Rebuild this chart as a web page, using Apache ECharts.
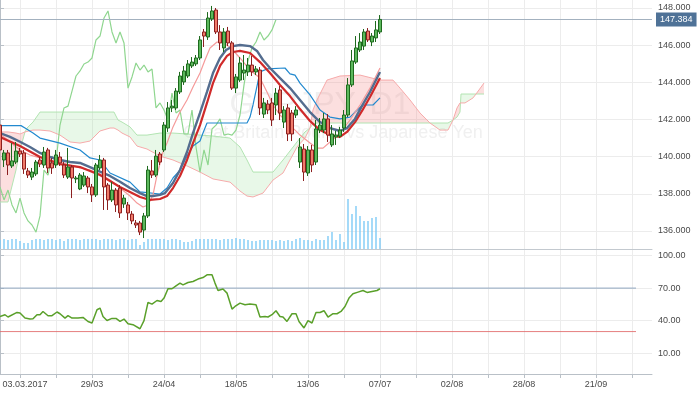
<!DOCTYPE html>
<html><head><meta charset="utf-8">
<script src="https://cdn.jsdelivr.net/npm/echarts@6/dist/echarts.min.js"></script>
<style>html,body{margin:0;padding:0;background:#fff}#c{width:700px;height:394px}</style>
</head><body><div id="c"></div>
<script>
// ---------- data ----------
const firstBarDate = '2017-02-24';
const slotCount = 164;               // 96 bars + 68 future slots
const tickIndex = [5, 23, 41, 59, 77, 95, 113, 131, 149];
const tickLabels = ['03.03.2017', '29/03', '24/04', '18/05', '13/06', '07/07', '02/08', '28/08', '21/09'];
const priceTicks = [136, 138, 140, 142, 144, 146, 148];
const rsiTicks = [10, 40, 70, 100];
const rsiLevels = [70, 30];

// [open, close, low, high]
const ohlc = [
[141.70,140.36,139.55,141.86],[139.82,140.20,139.44,140.36],[140.20,139.55,139.01,140.36],[139.50,139.77,139.39,140.73],
[139.71,140.30,139.60,140.79],[140.30,140.14,139.98,140.47],[140.20,139.33,139.07,140.36],[139.23,139.01,138.85,139.39],
[138.90,139.17,138.74,139.39],[139.07,139.71,138.96,139.82],[139.82,139.60,139.44,139.98],[139.55,140.25,139.39,140.52],
[140.36,139.39,139.12,140.47],[139.66,139.39,139.07,139.93],[139.55,140.09,139.39,140.36],[139.98,139.66,139.50,140.25],
[139.55,139.01,138.85,139.71],[138.90,139.44,138.80,140.47],[139.44,138.85,137.77,139.55],[138.80,138.85,138.58,138.96],
[138.26,139.01,138.20,139.12],[138.47,138.96,138.37,139.17],[138.85,138.37,138.04,138.96],[138.37,137.94,137.56,138.53],
[137.94,139.55,137.83,139.66],[139.39,139.82,139.28,140.09],[139.82,138.37,137.13,139.93],[138.47,137.67,137.13,138.58],
[137.67,138.20,137.56,138.64],[138.20,137.40,137.02,138.31],[138.31,136.97,136.70,138.47],[137.45,137.77,137.24,137.94],
[137.40,136.97,136.59,137.56],[136.91,136.54,136.37,137.07],[136.43,136.32,136.16,136.59],[136.43,135.94,135.78,136.54],
[136.05,136.81,135.62,136.97],[136.81,139.28,136.70,139.50],[139.23,139.01,138.85,139.82],[139.01,140.03,138.90,140.36],
[140.14,139.71,139.55,140.25],[140.36,141.70,140.25,141.86],[141.54,142.62,141.33,142.94],[142.62,142.72,142.40,143.05],
[142.62,143.53,142.51,143.69],[143.48,144.34,143.37,144.56],[144.02,144.61,143.86,144.88],[144.34,144.99,144.23,145.20],
[144.88,145.09,144.77,145.36],[144.99,145.31,144.88,145.47],[145.31,146.28,145.20,146.49],[146.71,146.49,145.90,146.87],
[146.44,147.46,146.28,147.78],[147.41,147.84,147.30,148.11],[147.89,146.71,146.60,148.00],[146.71,146.12,145.74,147.08],
[145.85,146.71,145.63,146.92],[146.76,146.12,145.95,146.98],[146.12,143.69,143.59,146.22],[143.69,144.29,143.42,144.45],
[144.12,145.04,144.02,145.36],[144.50,144.66,144.12,145.47],[144.56,144.93,144.34,145.31],[144.93,144.56,144.34,145.42],
[144.56,144.72,144.39,144.88],[144.66,142.62,142.24,144.82],[142.29,142.89,142.08,143.16],[142.83,142.51,142.29,143.05],
[142.89,141.97,141.65,143.16],[142.78,143.42,142.24,143.69],[143.59,142.35,141.97,143.80],[141.86,142.51,141.54,142.72],
[142.62,141.22,140.84,142.83],[142.35,141.22,140.84,142.51],[142.24,142.51,142.08,142.72],[139.71,140.52,139.39,141.00],
[140.41,139.17,138.69,140.68],[139.12,140.36,138.96,140.57],[140.36,139.55,139.17,140.63],[139.71,141.49,139.55,141.97],
[141.43,141.70,141.27,142.08],[141.43,142.03,141.27,142.35],[142.03,141.16,140.79,142.29],[140.63,141.22,140.52,141.70],
[141.06,141.16,140.63,141.38],[141.11,141.43,141.00,141.60],[141.54,142.24,141.33,142.51],[142.24,143.86,142.13,144.23],
[143.86,145.15,143.75,145.74],[145.09,145.85,144.99,146.49],[145.74,146.17,145.63,146.65],[145.95,146.71,145.74,146.87],
[146.76,146.28,146.17,146.92],[146.17,146.49,145.95,146.65],[146.39,146.82,146.17,147.30],[146.71,147.384,146.60,147.62]
];

const volume = [900,1000,900,1000,1000,800,600,600,900,1000, 1000,900,1000,1000,900,1000,800,1000,1000,1000,
 900,1000,1000,1000,1000,900,1000,1000,1000,900, 1000,1000,900,1000,1000,400,700,1000,1000,1000,
 1000,1000,900,1000,1000,900,700,700,800,1000, 1000,1000,1000,1000,1000,900,1000,1000,1000,1100,
 1000,1000,900,800,800,900,900,900,900,800, 900,800,900,800,1000,1100,900,900,800,1000,
 900,900,1300,1700,900,1500,700,5000,3500,4300, 3300,2800,2800,3100,3200,1100];

// [bar index, price]
const maSlate = [[0,141.27],[2.5,141.06],[5,140.80],[7.5,140.52],[10,140.20],[12.5,139.98],[15,139.82],[17.5,139.71],[20,139.66],[22.5,139.44],[25,139.19],[27.5,138.96],[30,138.65],[32.5,138.31],[35,138.04],[36.75,137.88],[38.25,137.88],[40,137.94],[41.25,138.04],[43.25,138.58],[45,139.28],[46.75,140.25],[48.25,141.27],[50,142.35],[51.75,143.48],[53.25,144.50],[55,145.31],[56.5,145.74],[58.25,145.95],[60,146.01],[62.5,145.95],[64.25,145.69],[65.75,145.20],[67.5,144.77],[70,144.23],[72.5,143.69],[75,143.05],[77.5,142.40],[80,141.86],[82.5,141.54],[85,141.38],[86.75,141.54],[88.75,142.03],[90.5,142.73],[92.5,143.48],[95,144.56]];
const maRed = [[0,141.06],[5,140.57],[10,139.98],[15,139.60],[20,139.44],[25,139.01],[30,138.37],[32.5,138.10],[35,137.83],[37.5,137.67],[40,137.72],[41.75,137.88],[43.25,138.31],[45,138.96],[46.75,139.82],[48.25,140.73],[50,141.70],[51.75,142.89],[53.25,143.96],[55,144.88],[56.75,145.42],[58.25,145.63],[60,145.69],[62.5,145.58],[65,145.09],[67.5,144.50],[70,143.86],[72.5,143.26],[75,142.56],[77.5,141.92],[80,141.43],[82.5,141.16],[85,141.06],[86.75,141.33],[88.75,141.86],[90.5,142.46],[92.5,143.21],[95,144.23]];
const tenkan = [[0,141.22],[2.5,140.79],[5,140.36],[7.5,140.09],[10,139.93],[12.5,139.82],[15,139.71],[17.5,139.55],[20,139.39],[22.5,139.28],[25,139.07],[27.5,138.74],[30,138.31],[32.5,137.88],[34.25,137.50],[35.75,137.29],[37,137.40],[38.25,137.94],[39.25,139.01],[40.75,140.25],[41.75,140.73],[43.25,141.60],[45,142.40],[46.75,143.05],[48.25,143.75],[50,144.50],[51.25,145.20],[52.5,145.85],[54.25,146.17],[55.75,146.12],[57.5,145.90],[60,145.31],[62.5,144.66],[65,144.23],[66.75,143.48],[68.25,142.78],[70,142.24],[72.5,141.70],[75,141.16],[77.5,140.73],[79.25,140.46],[80.75,140.46],[82.5,140.79],[85,141.27],[87.5,141.97],[90,142.78],[92.5,143.69],[95,144.77]];
const kijun = [[0,141.67],[5.25,141.67],[6.25,141.54],[8.25,141.27],[10,141.00],[15,140.73],[20,140.36],[22.5,139.93],[25,139.82],[27.5,139.12],[32.5,138.63],[35,138.10],[40,137.99],[41.75,138.31],[43.25,138.85],[45,139.28],[46.75,140.03],[48.25,140.57],[50,140.84],[50.75,141.27],[51.75,141.81],[61.75,141.81],[62.5,142.13],[63.25,142.78],[64.25,143.80],[65,144.56],[66.75,144.72],[71.25,144.77],[72.5,144.45],[73.75,144.39],[75,143.96],[77.5,143.32],[80,142.51],[82.5,142.13],[85,142.03],[87.5,142.13],[88.75,142.40],[90.75,142.78],[93.25,142.78],[95,143.16]];

const cloudX  = [0,2,4,5,6.25,6.75,8.25,10,12.5,15,17.5,20,22.5,25,27.5,28.5,29.5,30.5,32.5,34.25,36.75,40,43.25,46.75,50,53.25,57.5,60,61.75,63.25,65.75,68.25,70.75,74.25,76.25,77.5,78.25,79.25,81.75,85,90,95,98.25,100,102.5,105,107.5,110,112,113.25,114.25,115,115.125,115.25,116.25,118.25,119,121];
const senkouA = [137.56,137.56,139.28,140.36,141.33,141.54,141.86,142.40,142.40,142.40,142.40,142.40,142.40,142.40,142.40,142.40,141.97,141.86,141.60,141.16,141.16,141.27,141.27,141.22,141.16,141.11,141.00,140.52,139.82,139.17,139.17,139.17,139.82,140.79,141.33,141.54,141.76,141.81,141.81,141.81,141.81,141.81,141.81,141.81,141.81,141.81,141.81,141.81,141.81,141.97,142.13,142.40,142.89,143.37,143.37,143.37,143.37,143.37];
const senkouB = [141.33,141.33,141.27,141.22,141.33,141.38,141.43,141.43,141.38,141.16,140.79,140.73,140.84,141.38,141.54,141.54,141.43,141.27,141.06,140.57,140.41,140.03,139.82,139.50,139.17,138.80,138.63,138.15,137.88,137.83,138.04,138.74,139.12,140.52,141.00,141.54,142.51,143.05,144.12,144.34,144.39,144.12,144.12,143.69,143.05,142.35,141.81,141.43,141.43,141.97,142.62,142.89,142.89,142.89,142.89,143.16,143.37,143.96];
const chikouShift = 26;

const rsi = [[0,43.9],[1.25,45.5],[2,43.4],[4.25,47.6],[5,47.0],[6.25,42.4],[7.5,41.5],[8.25,41.8],[9.25,45.5],[10,45.5],[10.75,48.5],[12,44.6],[13,44.6],[14.25,48.0],[15,46.4],[16.25,42.4],[17,44.6],[18,42.4],[19.5,42.4],[20.75,43.0],[22,39.3],[23,37.9],[24.25,50.1],[25,51.6],[25.75,43.9],[26.75,40.2],[28,42.1],[29,42.1],[30,39.3],[31,41.5],[32,37.2],[33.25,36.3],[35,32.6],[36,40.0],[37,56.8],[38,55.3],[39.25,58.6],[40.25,57.7],[41,60.8],[42,69.4],[43,69.4],[44,72.1],[45,74.6],[45.75,73.0],[47,75.1],[48.25,76.1],[49.5,78.3],[50.75,79.7],[51.75,82.2],[53,82.2],[53.75,74.6],[54.5,67.8],[55.75,69.1],[56.75,65.4],[58,50.7],[58.75,53.1],[60,56.2],[61.25,54.7],[62.5,55.3],[64,54.7],[65,43.4],[66.25,43.9],[67,43.4],[68,45.5],[69,49.2],[70,43.9],[70.75,43.4],[71.75,39.3],[73,46.4],[74,46.4],[74.75,39.3],[76,33.3],[77,40.0],[78,37.9],[79,47.6],[80,47.6],[81,49.2],[82,43.4],[83.25,46.4],[84.25,46.4],[85.25,48.5],[86.25,53.1],[87.25,60.8],[88.25,64.8],[89.5,66.3],[90.75,67.8],[91.75,66.0],[93,66.9],[94.25,67.8],[95,69.4]];
const rsiLevelEnd = 159;

// ---------- derived ----------
const categories = [];
{ const d = new Date(firstBarDate + 'T00:00:00Z');
  while (categories.length < slotCount) {
    const wd = d.getUTCDay();
    if (wd !== 0 && wd !== 6) categories.push(String(d.getUTCDate()).padStart(2,'0') + '/' + String(d.getUTCMonth()+1).padStart(2,'0'));
    d.setUTCDate(d.getUTCDate() + 1);
  } }
const closes = ohlc.map(r => r[1]);
const lastClose = closes[closes.length - 1];
const chikou = closes.slice(chikouShift).map((c, k) => [k, c]);

// cloud runs (contiguous segments with same sign)
const runs = [];
for (let i = 0; i < cloudX.length - 1; i++) {
  const up = (senkouA[i] + senkouA[i+1]) >= (senkouB[i] + senkouB[i+1]) ? 1 : 0;
  const last = runs[runs.length - 1];
  if (last && last[6] === up) { last[1] = cloudX[i+1]; last[5] = i + 1; }
  else runs.push([cloudX[i], cloudX[i+1], 135, 148, i, i + 1, up]);
}

const FONT = 'Liberation Sans, Arial, sans-serif';
const splitEvery = (idx) => idx >= 5 && (idx - 5) % 9 === 0;
const gridLine = { show: true, lineStyle: { color: '#ececec', width: 1 } };

const chart = echarts.init(document.getElementById('c'), null, { renderer: 'canvas' });
chart.setOption({
  animation: false,
  backgroundColor: '#fff',
  grid: [
    { left: 0, top: 0, width: 652, height: 249, containLabel: false, outerBoundsMode: 'none' },
    { left: 0, top: 250, width: 652, height: 124, containLabel: false, outerBoundsMode: 'none' }
  ],
  graphic: [
    { type: 'text', x: 320, y: 105, z: 0, silent: true,
      style: { text: 'GBPJPY, D1', fontSize: 32, fontFamily: FONT, fill: '#f0f0f0', align: 'center', verticalAlign: 'middle' } },
    { type: 'text', x: 333, y: 133, z: 0, silent: true,
      style: { text: 'Great Britain Pound vs Japanese Yen', fontSize: 18, fontFamily: FONT, fill: '#f0f0f0', align: 'center', verticalAlign: 'middle' } }
  ],
  xAxis: [
    { type: 'category', gridIndex: 0, data: categories, boundaryGap: false,
      axisLine: { show: true, onZero: false, lineStyle: { color: '#c3c9cf' } },
      axisTick: { show: false }, axisLabel: { show: false },
      splitLine: Object.assign({ interval: (i) => splitEvery(i) }, gridLine) },
    { type: 'value', gridIndex: 0, min: 0, max: slotCount - 1, show: false },
    { type: 'category', gridIndex: 1, data: categories, boundaryGap: false,
      axisLine: { show: true, onZero: false, lineStyle: { color: '#b9c0c7' } },
      axisTick: { show: true, length: 4, interval: (i) => splitEvery(i), lineStyle: { color: '#b9c0c7' } },
      axisLabel: { show: true, margin: 6, interval: (i) => tickIndex.includes(i), color: '#4a4a4a', fontSize: 9, fontFamily: FONT,
        formatter: (v, i) => { const k = tickIndex.indexOf(i); if (k < 0) return ''; return k === 0 ? '{f|' + tickLabels[0] + '}' : tickLabels[k]; },
        rich: { f: { padding: [0, 0, 0, 10], color: '#4a4a4a', fontSize: 9, fontFamily: FONT } } },
      splitLine: Object.assign({ interval: (i) => splitEvery(i) }, gridLine) },
    { type: 'value', gridIndex: 1, min: 0, max: slotCount - 1, show: false }
  ],
  yAxis: [
    { type: 'value', gridIndex: 0, position: 'right', min: 135.03, max: 148.43,
      axisLine: { show: true, lineStyle: { color: '#b9c0c7' } },
      axisTick: { show: true, length: 4, customValues: priceTicks, lineStyle: { color: '#b9c0c7' } },
      axisLabel: { show: true, margin: 6, customValues: priceTicks, color: '#4a4a4a', fontSize: 9, fontFamily: FONT, formatter: v => v.toFixed(3) },
      splitLine: gridLine },
    { type: 'value', gridIndex: 0, min: 0, max: 24900, show: false },
    { type: 'value', gridIndex: 1, position: 'right', min: -9.05, max: 105.06,
      axisLine: { show: true, lineStyle: { color: '#b9c0c7' } },
      axisTick: { show: true, length: 4, customValues: rsiTicks, lineStyle: { color: '#b9c0c7' } },
      axisLabel: { show: true, margin: 6, customValues: rsiTicks, color: '#4a4a4a', fontSize: 9, fontFamily: FONT, formatter: v => v.toFixed(2) },
      splitLine: gridLine }
  ],
  series: [
    { type: 'custom', name: 'cloud', xAxisIndex: 1, yAxisIndex: 0, z: 1, silent: true, clip: true,
      dimensions: ['xs', 'xe', 'lo', 'hi', 's', 'e', 'up'], encode: { x: [0, 1], y: [2, 3] },
      data: runs,
      renderItem: (params, api) => {
        const s = api.value(4), e = api.value(5), up = api.value(6);
        const pts = [];
        for (let k = s; k <= e; k++) pts.push(api.coord([cloudX[k], senkouA[k]]));
        for (let k = e; k >= s; k--) pts.push(api.coord([cloudX[k], senkouB[k]]));
        return { type: 'polygon', shape: { points: pts },
          style: { fill: up ? 'rgba(150,222,150,0.22)' : 'rgba(246,140,140,0.28)', stroke: null } };
      } },
    { type: 'line', name: 'senkouA', xAxisIndex: 1, yAxisIndex: 0, z: 2, symbol: 'none', silent: true,
      data: cloudX.map((x, i) => [x, senkouA[i]]), lineStyle: { color: '#b2e4b2', width: 1 } },
    { type: 'line', name: 'senkouB', xAxisIndex: 1, yAxisIndex: 0, z: 2, symbol: 'none', silent: true,
      data: cloudX.map((x, i) => [x, senkouB[i]]), lineStyle: { color: '#f6aaaa', width: 1 } },
    { type: 'bar', name: 'volume', xAxisIndex: 0, yAxisIndex: 1, z: 2, barWidth: 1.4, silent: true,
      data: volume, itemStyle: { color: '#7ecbf6' } },
    { type: 'line', name: 'chikou', xAxisIndex: 1, yAxisIndex: 0, z: 3, symbol: 'none', silent: true,
      data: chikou, lineStyle: { color: '#8fd68f', width: 1.2 } },
    { type: 'line', name: 'kijun', xAxisIndex: 1, yAxisIndex: 0, z: 3, symbol: 'none', silent: true,
      data: kijun, lineStyle: { color: '#2289cf', width: 1.2 } },
    { type: 'line', name: 'tenkan', xAxisIndex: 1, yAxisIndex: 0, z: 3, symbol: 'none', silent: true,
      data: tenkan, lineStyle: { color: '#f59a9a', width: 1.2 } },
    { type: 'line', name: 'maRed', xAxisIndex: 1, yAxisIndex: 0, z: 4, symbol: 'none', silent: true,
      data: maRed, lineStyle: { color: '#d02a2a', width: 2.2 } },
    { type: 'line', name: 'maSlate', xAxisIndex: 1, yAxisIndex: 0, z: 4, symbol: 'none', silent: true,
      data: maSlate, lineStyle: { color: '#546d8f', width: 2.4 } },
    { type: 'candlestick', name: 'GBPJPY', xAxisIndex: 0, yAxisIndex: 0, z: 5, barWidth: 3, silent: true,
      data: ohlc,
      itemStyle: { color: '#5cb85c', color0: '#f07a6a', borderColor: '#1e6a1e', borderColor0: '#8c1f1f', borderWidth: 1 },
      markLine: { silent: true, symbol: ['none', 'none'], animation: false,
        lineStyle: { color: '#a3b1bf', type: 'solid', width: 1 },
        label: { show: true, position: 'end', distance: 4, formatter: () => lastClose.toFixed(3),
          backgroundColor: '#4f7297', color: '#fff', fontSize: 9, fontFamily: FONT, padding: [3, 4, 2, 4] },
        data: [{ yAxis: lastClose }] } },
    { type: 'line', name: 'RSI', xAxisIndex: 3, yAxisIndex: 2, z: 3, symbol: 'none', silent: true,
      data: rsi, lineStyle: { color: '#5aa02a', width: 1.5 } },
    { type: 'line', name: 'rsi70', xAxisIndex: 3, yAxisIndex: 2, z: 2, symbol: 'none', silent: true,
      data: [[0, rsiLevels[0]], [rsiLevelEnd, rsiLevels[0]]], lineStyle: { color: '#8fa7c0', width: 1 } },
    { type: 'line', name: 'rsi30', xAxisIndex: 3, yAxisIndex: 2, z: 2, symbol: 'none', silent: true,
      data: [[0, rsiLevels[1]], [rsiLevelEnd, rsiLevels[1]]], lineStyle: { color: '#e06a6a', width: 1, opacity: 0.85 } }
  ]
});
</script>
</body></html>
